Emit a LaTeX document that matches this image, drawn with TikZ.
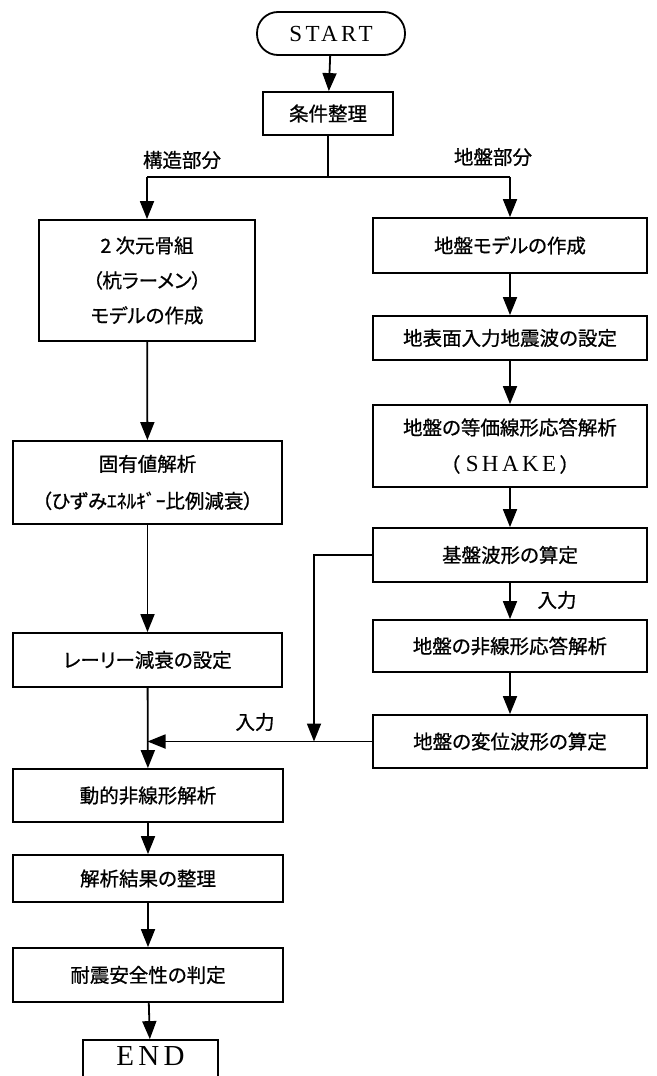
\documentclass[tikz,border=0pt]{standalone}
\usepackage{fontspec}
\setmainfont{Liberation Serif}
\newfontfamily\jp[RawFeature=+palt,FakeBold=0.8]{Noto Sans CJK JP}
\newfontfamily\latsp[LetterSpace=15]{Liberation Serif}
\usetikzlibrary{arrows.meta}
\tikzset{
  box/.style={draw, line width=1.8pt, align=center, inner sep=0pt,
    font=\jp\fontsize{19.5}{36}\selectfont},
  lbl/.style={font=\jp\fontsize{19.5}{24}\selectfont, inner sep=0pt},
  arr/.style={line width=1.8pt, -{Triangle[length=18pt,width=14pt]}},
  ln/.style={line width=1.8pt},
}
\begin{document}
\begin{tikzpicture}[x=1pt,y=-1pt]
\useasboundingbox (0,0) rectangle (656,1076);
\clip (0,0) rectangle (656,1076);
% terminals
\node[draw, line width=1.8pt, rounded corners=21pt, minimum width=148, minimum height=43, inner sep=0pt,
  font=\latsp\fontsize{23}{26}\selectfont] (start) at (331,33.5) {START};
\node[box, minimum width=130, minimum height=43] (jk) at (328,113.5) {条件整理};
\coordinate (sp) at (328,177);
\coordinate (sl) at (147,177);
\coordinate (sr) at (510,177);
% left column
\node[box, minimum width=216, minimum height=121, font=\jp\fontsize{19.5}{35}\selectfont] (L1) at (147,280.5) {2 次元骨組\\（杭ラーメン）\\モデルの作成};
\node[box, minimum width=269, minimum height=83, font=\jp\fontsize{19.5}{37}\selectfont] (L2) at (147.5,482.5) {固有値解析\\（ひずみｴﾈﾙｷﾞｰ比例減衰）};
\node[box, minimum width=269, minimum height=54] (L3) at (147.5,660) {レーリー減衰の設定};
\node[box, minimum width=270, minimum height=53] (L4) at (148,795.5) {動的非線形解析};
\node[box, minimum width=270, minimum height=47] (L5) at (148,878.5) {解析結果の整理};
\node[box, minimum width=270, minimum height=54] (L6) at (148,975) {耐震安全性の判定};
\node[draw, line width=1.8pt, minimum width=135, minimum height=44, inner sep=0pt, text depth=12pt,
  font=\latsp\fontsize{29}{32}\selectfont] (end) at (150.5,1062) {END};
% right column
\node[box, minimum width=274, minimum height=55] (R1) at (510,245.5) {地盤モデルの作成};
\node[box, minimum width=274, minimum height=44] (R2) at (510,338) {地表面入力地震波の設定};
\node[box, minimum width=274, minimum height=82, font=\jp\fontsize{19.5}{37}\selectfont] (R3) at (510,446) {地盤の等価線形応答解析\\（\hspace{6pt}{\latsp\fontsize{23}{26}\selectfont SHAKE}\hspace{4pt}）};
\node[box, minimum width=274, minimum height=54] (R4) at (510,555) {基盤波形の算定};
\node[box, minimum width=274, minimum height=52] (R5) at (510,646) {地盤の非線形応答解析};
\node[box, minimum width=274, minimum height=53] (R6) at (510,741.5) {地盤の変位波形の算定};
\coordinate (bx) at (314,741.5);
% labels
\node[lbl] (t1) at (182,160) {構造部分};
\node[lbl] (t2) at (493,157) {地盤部分};
\node[lbl] (t3) at (557,600) {入力};
\node[lbl] (t4) at (255,722) {入力};
% connectors
\draw[arr] (start) -- (jk);
\draw[ln] (jk) -- (sp);
\draw[ln] (sl) -- (sr);
\draw[arr] (sl) -- (L1);
\draw[arr] (sr) -- (R1);
\draw[arr] (L1) -- (L2);
\draw[arr] (L2) -- (L3);
\draw[arr] (L3) -- (L4);
\draw[arr] (L4) -- (L5);
\draw[arr] (L5) -- (L6);
\draw[arr] (L6) -- (end);
\draw[arr] (R1) -- (R2);
\draw[arr] (R2) -- (R3);
\draw[arr] (R3) -- (R4);
\draw[arr] (R4) -- (R5);
\draw[arr] (R5) -- (R6);
\draw[arr] (R4.west) -| (bx);
\draw[arr] (R6.west) -- (R6.west -| L3.south);
\end{tikzpicture}
\end{document}
